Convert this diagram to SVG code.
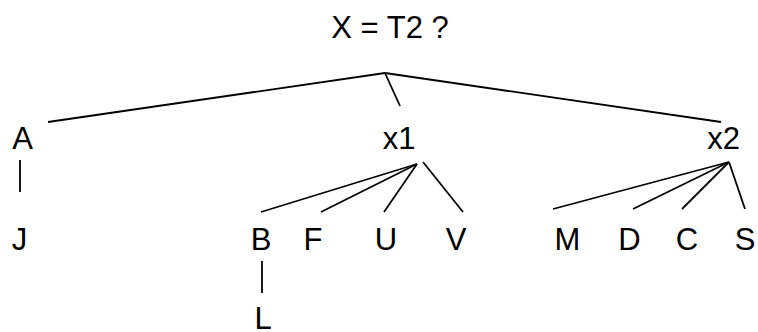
<svg xmlns="http://www.w3.org/2000/svg" width="758" height="332" viewBox="0 0 758 332">
<style>
text{font-family:"Liberation Sans",Arial,sans-serif;font-size:31px;fill:#000;text-anchor:middle}
.c line{stroke:#000;stroke-width:1.8;stroke-linecap:butt}
</style>
<rect width="758" height="332" fill="#fff"/>
<g class="c" id="connectors">
<line x1="385" y1="73" x2="48" y2="122"/>
<line x1="385" y1="73" x2="400" y2="106" stroke-width="1.4"/>
<line x1="385" y1="73" x2="721" y2="122"/>
<line x1="20" y1="160" x2="20" y2="192"/>
<line x1="417" y1="164" x2="261" y2="212"/>
<line x1="417" y1="164" x2="321" y2="212"/>
<line x1="417" y1="164" x2="384" y2="212" stroke-width="1.4"/>
<line x1="423" y1="162" x2="463" y2="212"/>
<line x1="729" y1="162" x2="553" y2="209"/>
<line x1="729" y1="162" x2="633" y2="209"/>
<line x1="729" y1="162" x2="682" y2="209" stroke-width="1.4"/>
<line x1="729" y1="162" x2="745" y2="209"/>
<line x1="262" y1="261" x2="262" y2="293"/>
</g>
<g id="root"><text x="390" y="38">X = T2 ?</text></g>
<g id="A"><text x="22.5" y="149">A</text></g>
<g id="x1"><text x="399" y="149">x1</text></g>
<g id="x2"><text x="723.5" y="149">x2</text></g>
<g id="J"><text x="19.5" y="250">J</text></g>
<g id="B"><text x="261" y="250">B</text></g>
<g id="F"><text x="313" y="250">F</text></g>
<g id="U"><text x="386" y="250">U</text></g>
<g id="V"><text x="456" y="250">V</text></g>
<g id="M"><text x="567.5" y="250">M</text></g>
<g id="D"><text x="629.5" y="250">D</text></g>
<g id="C"><text x="687" y="250">C</text></g>
<g id="S"><text x="745" y="250">S</text></g>
<g id="L"><text x="263" y="329">L</text></g>
</svg>
